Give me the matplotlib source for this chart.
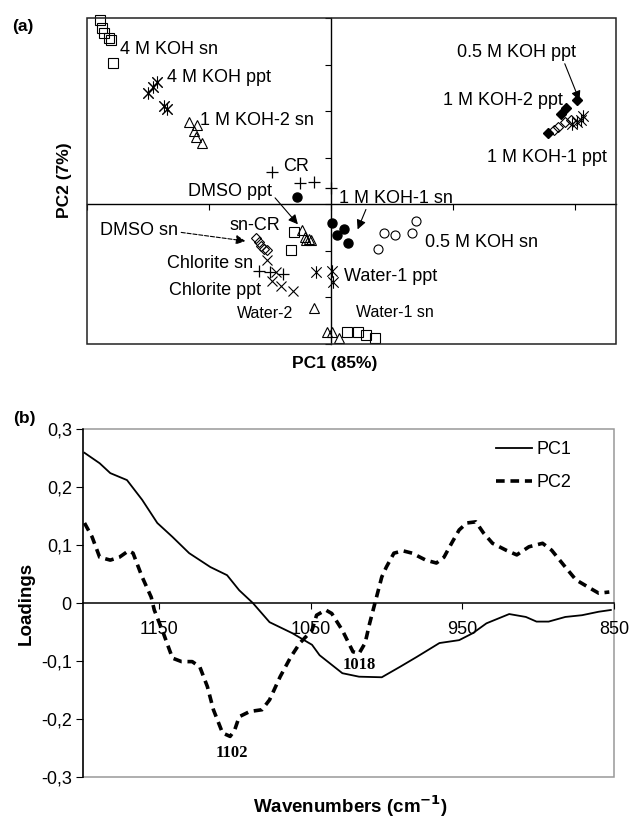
import matplotlib
matplotlib.use("Agg")
import matplotlib.pyplot as plt
import matplotlib.patches as patches
from matplotlib.path import Path

plt.rcParams["font.family"] = ["Liberation Sans", "DejaVu Sans"]

# ---- panel (a): PCA scores (PC1, PC2) ----
koh4_sn = ([-1.89, -1.88, -1.86, -1.82, -1.80, -1.79], [3.95, 3.78, 3.67, 3.56, 3.52, 3.03])
koh4_ppt = ([-1.50, -1.46, -1.43, -1.37, -1.34], [2.38, 2.51, 2.62, 2.12, 2.04])
koh1_2_sn = ([-1.16, -1.10, -1.12, -1.11, -1.06], [1.76, 1.70, 1.57, 1.44, 1.31])
cr = ([-0.48, -0.25, -0.14, 0.0], [0.69, 0.45, 0.47, 0.34])
dmso_ppt = ([-0.28], [0.15])
koh1_1_sn = ([0.01, 0.05, 0.11, 0.14], [-0.41, -0.67, -0.54, -0.84])
koh05_sn = ([0.70, 0.44, 0.53, 0.67, 0.39], [-0.36, -0.62, -0.67, -0.62, -0.97])
sncr_sq = ([-0.30, -0.33], [-0.60, -0.99])
sncr_tri = ([-0.24, -0.21, -0.18, -0.20, -0.16], [-0.56, -0.71, -0.75, -0.77, -0.77])
dmso_sn = ([-0.61, -0.59, -0.57, -0.55, -0.52], [-0.73, -0.82, -0.90, -0.97, -0.99])
chlorite_sn = ([-0.59, -0.50, -0.39], [-1.44, -1.46, -1.50])
chlorite_ppt = ([-0.52, -0.45, -0.48, -0.41, -0.31], [-1.20, -1.46, -1.65, -1.76, -1.87])
water1_ppt = ([-0.12, 0.01, 0.02], [-1.46, -1.44, -1.67])
water2 = ([-0.14, -0.03, 0.01, 0.07], [-2.23, -2.75, -2.75, -2.88])
water1_sn = ([0.13, 0.22, 0.29, 0.36], [-2.75, -2.75, -2.81, -2.88])
koh05_ppt = ([2.02, 1.93, 1.89, 1.78], [2.23, 2.06, 1.93, 1.52])
koh1_1_ppt = ([1.83, 1.86, 1.92, 1.97], [1.59, 1.65, 1.76, 1.82])
koh1_2_ppt = ([1.98, 2.02, 2.05, 2.07], [1.72, 1.76, 1.82, 1.89])

# ---- panel (b): loadings ----
pc1_wn = [1199, 1189, 1182, 1171, 1161, 1151, 1141, 1130, 1116, 1105, 1097, 1088,
          1077, 1062, 1049, 1044, 1029, 1018, 1003, 991, 980, 965, 952, 943, 934,
          919, 908, 901, 893, 882, 871, 860, 852]
pc1_val = [0.259, 0.241, 0.224, 0.212, 0.178, 0.138, 0.114, 0.086, 0.062, 0.048,
           0.022, 0.0, -0.033, -0.052, -0.072, -0.090, -0.121, -0.127, -0.128,
           -0.110, -0.093, -0.069, -0.064, -0.052, -0.035, -0.019, -0.024, -0.032,
           -0.032, -0.024, -0.021, -0.015, -0.012]
pc2_wn = [1199, 1194, 1189, 1182, 1176, 1170, 1167, 1161, 1155, 1153, 1147, 1141,
          1135, 1128, 1123, 1118, 1114, 1108, 1103, 1100, 1097, 1090, 1082, 1077,
          1070, 1063, 1057, 1049, 1046, 1040, 1036, 1029, 1022, 1018, 1014, 1011,
          1007, 1003, 1000, 995, 989, 983, 974, 967, 962, 957, 952, 947, 941, 936,
          930, 921, 914, 906, 897, 891, 882, 875, 866, 860, 853]
pc2_val = [0.138, 0.114, 0.079, 0.074, 0.079, 0.090, 0.086, 0.045, 0.010, -0.012,
           -0.052, -0.095, -0.101, -0.101, -0.110, -0.144, -0.184, -0.224, -0.230,
           -0.219, -0.196, -0.187, -0.184, -0.167, -0.127, -0.093, -0.069, -0.047,
           -0.021, -0.012, -0.018, -0.047, -0.084, -0.087, -0.069, -0.035, 0.005,
           0.045, 0.062, 0.086, 0.090, 0.086, 0.074, 0.069, 0.079, 0.103, 0.126,
           0.138, 0.140, 0.121, 0.103, 0.091, 0.083, 0.097, 0.103, 0.091, 0.062,
           0.040, 0.026, 0.017, 0.019]
b_yticks = [-0.3, -0.2, -0.1, 0, 0.1, 0.2, 0.3]
b_ytick_labels = ["-0,3", "-0,2", "-0,1", "0", "0,1", "0,2", "0,3"]
b_xticks = [1150, 1050, 950, 850]

# Excel-like asterisk marker (x plus vertical bar)
asterisk = Path([(-1, -1), (1, 1), (-1, 1), (1, -1), (0, -1.2), (0, 1.2)],
                [Path.MOVETO, Path.LINETO, Path.MOVETO, Path.LINETO, Path.MOVETO, Path.LINETO])

fig = plt.figure(figsize=(6.32, 8.18), dpi=100)
ax = fig.add_axes([0.1377, 0.5795, 0.837, 0.3985])

ax.set_xlim(-2, 2.34)
ax.set_ylim(-3, 4)
for side in ["top", "right"]:
    ax.spines[side].set_visible(False)
ax.spines["left"].set_position(("data", 0))
ax.spines["bottom"].set_position(("data", 0))
ax.spines["left"].set_linewidth(1)
ax.spines["bottom"].set_linewidth(1)
ax.set_xticks([-2, -1, 0, 1, 2])
ax.set_yticks([-3, -2, -1, 0, 1, 2, 3, 4])
ax.tick_params(direction="out", length=4, width=0.8, labelleft=False, labelbottom=False)
ax.add_patch(patches.Rectangle((0, 0), 1, 1, transform=ax.transAxes, fill=False,
                               edgecolor="#222222", lw=1.1, clip_on=False, zorder=5))

open_kw = dict(linestyle="none", mfc="none", mec="black", mew=0.8, ms=6.5, clip_on=False)
star_kw = dict(linestyle="none", color="black", mew=0.8, ms=9)
ax.plot(*koh4_sn, marker="s", **open_kw)
ax.plot(*koh4_ppt, marker="x", linestyle="none", color="black", mew=0.8, ms=7)
ax.plot(*koh4_ppt, marker=asterisk, **star_kw)
ax.plot(*koh1_2_sn, marker="^", **open_kw)
ax.plot(*cr, marker="+", linestyle="none", color="black", mew=0.9, ms=8)
ax.plot(*dmso_ppt, marker="o", linestyle="none", color="black", ms=6.5)
ax.plot(*koh1_1_sn, marker="o", linestyle="none", color="black", ms=6.5)
ax.plot(*koh05_sn, marker="o", **open_kw)
ax.plot(*sncr_sq, marker="s", **open_kw)
ax.plot(*sncr_tri, marker="^", **open_kw)
ax.plot(*dmso_sn, marker="D", linestyle="none", mfc="none", mec="black", mew=0.8, ms=5)
ax.plot(*chlorite_sn, marker="+", linestyle="none", color="black", mew=0.9, ms=8)
ax.plot(*chlorite_ppt, marker="x", linestyle="none", color="black", mew=0.8, ms=7)
ax.plot(*water1_ppt, marker=asterisk, **star_kw)
ax.plot(*water2, marker="^", **open_kw)
ax.plot(*water1_sn, marker="s", **open_kw)
ax.plot(*koh05_ppt, marker="D", linestyle="none", color="black", ms=5)
ax.plot(*koh1_1_ppt, marker="D", linestyle="none", mfc="none", mec="black", mew=0.8, ms=5)
ax.plot(*koh1_2_ppt, marker=asterisk, **star_kw)

fs = 13
ax.text(-1.73, 3.33, "4 M KOH sn", fontsize=fs, va="center")
ax.text(-1.34, 2.73, "4 M KOH ppt", fontsize=fs, va="center")
ax.text(-1.07, 1.80, "1 M KOH-2 sn", fontsize=fs, va="center")
ax.text(-0.39, 0.82, "CR", fontsize=fs, va="center")
ax.text(-0.83, -0.45, "sn-CR", fontsize=fs, va="center")
ax.text(-1.34, -1.27, "Chlorite sn", fontsize=fs, va="center")
ax.text(-1.33, -1.85, "Chlorite ppt", fontsize=fs, va="center")
ax.text(-0.77, -2.34, "Water-2", fontsize=11.5, va="center")
ax.text(0.77, -0.82, "0.5 M KOH sn", fontsize=fs, va="center")
ax.text(0.11, -1.55, "Water-1 ppt", fontsize=fs, va="center")
ax.text(0.21, -2.32, "Water-1 sn", fontsize=11.5, va="center")
ax.text(0.92, 2.23, "1 M KOH-2 ppt", fontsize=fs, va="center")
ax.text(1.28, 1.01, "1 M KOH-1 ppt", fontsize=fs, va="center")

arrow = dict(arrowstyle="-|>", color="black", lw=0.8, mutation_scale=14, shrinkA=0, shrinkB=0)
ax.annotate("0.5 M KOH ppt", xy=(2.04, 2.23), xytext=(1.52, 3.26), fontsize=fs,
            ha="center", va="center", arrowprops=dict(arrow, relpos=(0.9, 0.0)))
ax.annotate("DMSO ppt", xy=(-0.27, -0.43), xytext=(-0.48, 0.28), fontsize=fs,
            ha="right", va="center", arrowprops=dict(arrow, relpos=(1.0, 0.3)))
ax.annotate("DMSO sn", xy=(-0.70, -0.79), xytext=(-1.89, -0.56), fontsize=fs,
            ha="left", va="center", arrowprops=dict(arrow, linestyle="--", relpos=(1.0, 0.4)))
ax.annotate("1 M KOH-1 sn", xy=(0.22, -0.54), xytext=(0.07, 0.13), fontsize=fs,
            ha="left", va="center", arrowprops=dict(arrow, relpos=(0.25, 0.1)))

fig.text(23 / 632, 1 - 26 / 818, "(a)", fontsize=12.5, fontweight="bold", ha="center", va="center")
fig.text(64 / 632, 1 - 180 / 818, "PC2 (7%)", fontsize=12.5, fontweight="bold",
         rotation=90, ha="center", va="center")
fig.text(335 / 632, 1 - 364 / 818, "PC1 (85%)", fontsize=12.5, fontweight="bold",
         ha="center", va="center")

# ---- panel (b) ----
bx = fig.add_axes([0.1313, 0.0501, 0.840, 0.4254])
bx.plot(pc1_wn, pc1_val, color="black", lw=1.3, label="PC1")
bx.plot(pc2_wn, pc2_val, color="black", lw=2.6, linestyle=(0, (2.4, 1.6)), label="PC2")
bx.set_xlim(1200, 850)
bx.set_ylim(-0.3, 0.3)
bx.spines["top"].set_visible(False)
bx.spines["right"].set_visible(False)
bx.spines["bottom"].set_position(("data", 0))
bx.spines["bottom"].set_linewidth(1.1)
bx.spines["left"].set_linewidth(1.1)
bx.add_patch(patches.Rectangle((0, 0), 1, 1, transform=bx.transAxes, fill=False,
                               edgecolor="#999999", lw=1.1, clip_on=False, zorder=0.5))
bx.set_yticks(b_yticks)
bx.set_yticklabels(b_ytick_labels)
bx.set_xticks(b_xticks)
bx.set_xticklabels([str(v) for v in b_xticks])
bx.tick_params(axis="y", direction="out", length=5, width=0.8, labelsize=13, pad=3)
bx.tick_params(axis="x", direction="out", length=4, width=0.8, labelsize=13, pad=9)

bx.legend(loc="upper left", bbox_to_anchor=(0.765, 0.985), frameon=False, fontsize=13,
          handlelength=2.0, handletextpad=0.2, labelspacing=0.85, borderaxespad=0)

bx.text(1102, -0.245, "1102", family=["Liberation Serif", "DejaVu Serif"], fontweight="bold",
        fontsize=12, ha="center", va="top")
bx.text(1018, -0.107, "1018", family=["Liberation Serif", "DejaVu Serif"], fontweight="bold",
        fontsize=12, ha="center", va="center")

fig.text(24 / 632, 1 - 418 / 818, "(b)", fontsize=12.5, fontweight="bold", ha="center", va="center")
fig.text(26 / 632, 1 - 603 / 818, "Loadings", fontsize=13.5, fontweight="bold",
         rotation=90, ha="center", va="center")
fig.text(350 / 632, 1 - 806 / 818, "Wavenumbers (cm$^{\\mathbf{-1}}$)", fontsize=13.5,
         fontweight="bold", ha="center", va="center")

fig.savefig("out.png", dpi=100)
